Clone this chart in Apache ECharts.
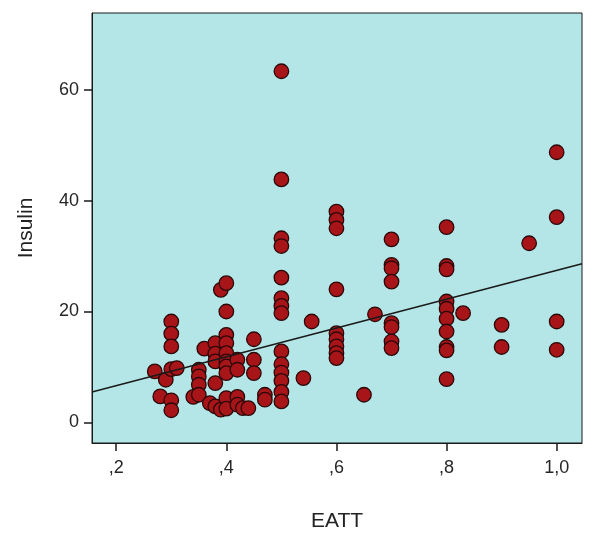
<!DOCTYPE html>
<html>
<head>
<meta charset="utf-8">
<script src="https://cdn.jsdelivr.net/npm/echarts@6/dist/echarts.min.js"></script>
<style>html,body{margin:0;padding:0;background:#fff}#c{width:600px;height:538px}</style>
</head>
<body>
<div id="c"></div>
<script>
const eatt = [
 0.27,0.28,0.29,
 0.3,0.3,0.3,0.3,0.3,0.3,0.31,
 0.34,0.35,0.35,0.35,0.35,0.36,0.37,
 0.38,0.38,0.38,0.38,0.38,0.39,0.39,
 0.4,0.4,0.4,0.4,0.4,0.4,0.4,0.4,0.4,0.4,
 0.42,0.42,0.42,0.42,0.43,0.44,
 0.45,0.45,0.45,0.47,0.47,
 0.5,0.5,0.5,0.5,0.5,0.5,0.5,0.5,0.5,0.5,0.5,0.5,0.5,0.5,
 0.54,0.555,
 0.6,0.6,0.6,0.6,0.6,0.6,0.6,0.6,0.6,
 0.65,0.67,
 0.7,0.7,0.7,0.7,0.7,0.7,0.7,0.7,
 0.8,0.8,0.8,0.8,0.8,0.8,0.8,0.8,0.8,0.8,
 0.83,0.9,0.9,0.95,
 1.0,1.0,1.0,1.0
];
const insulin = [
 9.2,4.7,7.7,
 18.2,16.0,13.7,9.6,4.0,2.2,9.8,
 4.6,9.5,8.3,6.8,5.0,13.3,3.5,
 14.3,12.4,11.0,7.1,2.9,2.3,23.9,
 25.1,20.0,15.8,14.3,12.5,11.0,10.1,8.9,4.4,2.5,
 11.3,9.5,4.6,3.2,2.6,2.6,
 15.0,11.3,8.9,5.0,4.1,
 63.3,43.8,33.2,31.8,26.1,22.4,21.0,19.7,12.8,10.5,9.0,7.5,5.5,3.8,
 8.0,18.2,
 38.0,36.5,35.0,24.0,16.1,15.0,13.7,12.5,11.6,
 5.0,19.5,
 33.0,28.4,27.8,25.4,17.9,17.2,14.6,13.4,
 35.2,28.2,27.6,21.8,20.5,18.7,16.4,13.6,13.0,7.8,
 19.7,17.6,13.6,32.3,
 48.7,37.0,18.2,13.1
];
const xTicks = [0.2,0.4,0.6,0.8,1.0];
const xTickLabels = [',2',',4',',6',',8','1,0'];
const yTicks = [0,20,40,60];
const yTickLabels = ['0','20','40','60'];
const xRange = [0.156,1.046];
const yRange = [-3.7,73.8];
const fitIntercept = 1.45;
const fitSlope = 25.96;

const pts = eatt.map((x,i)=>[x,insulin[i]]);
const fitLine = xRange.map(x=>[x, fitIntercept + fitSlope*x]);

const chart = echarts.init(document.getElementById('c'));
const font = 'Liberation Sans, Arial, sans-serif';
chart.setOption({
  animation:false,
  grid:{left:92,top:13,right:18,bottom:95,show:true,backgroundColor:'#b4e5e7',borderColor:'#1a1a1a',borderWidth:1},
  xAxis:{type:'value',min:xRange[0],max:xRange[1],
    name:'EATT',nameLocation:'middle',nameGap:68,
    nameTextStyle:{fontFamily:font,fontSize:21,color:'#222'},
    axisLine:{show:true,onZero:false,lineStyle:{color:'#1a1a1a'}},
    splitLine:{show:false},
    axisTick:{show:true,length:8,customValues:xTicks,lineStyle:{color:'#1a1a1a',width:1.5}},
    axisLabel:{customValues:xTicks,margin:16,fontFamily:font,fontSize:18,color:'#262626',
      formatter:v=>{const i=xTicks.findIndex(t=>Math.abs(t-v)<1e-6);return i>=0?xTickLabels[i]:'';}}
  },
  yAxis:{type:'value',min:yRange[0],max:yRange[1],
    name:'Insulin',nameLocation:'middle',nameGap:55,
    nameTextStyle:{fontFamily:font,fontSize:21,color:'#222'},
    axisLine:{show:true,onZero:false,lineStyle:{color:'#1a1a1a'}},
    splitLine:{show:false},
    axisTick:{show:true,length:8,customValues:yTicks,lineStyle:{color:'#1a1a1a',width:1.5}},
    axisLabel:{customValues:yTicks,margin:13,fontFamily:font,fontSize:18,color:'#262626',
      formatter:v=>{const i=yTicks.findIndex(t=>Math.abs(t-v)<1e-6);return i>=0?yTickLabels[i]:'';}}
  },
  series:[
    {type:'scatter',data:pts,symbolSize:14.5,
      itemStyle:{color:'#a81519',borderColor:'#2a0808',borderWidth:1.3,opacity:1}},
    {type:'line',data:fitLine,symbol:'none',lineStyle:{color:'#1a1a1a',width:1.5},z:5}
  ]
});
</script>
</body>
</html>
